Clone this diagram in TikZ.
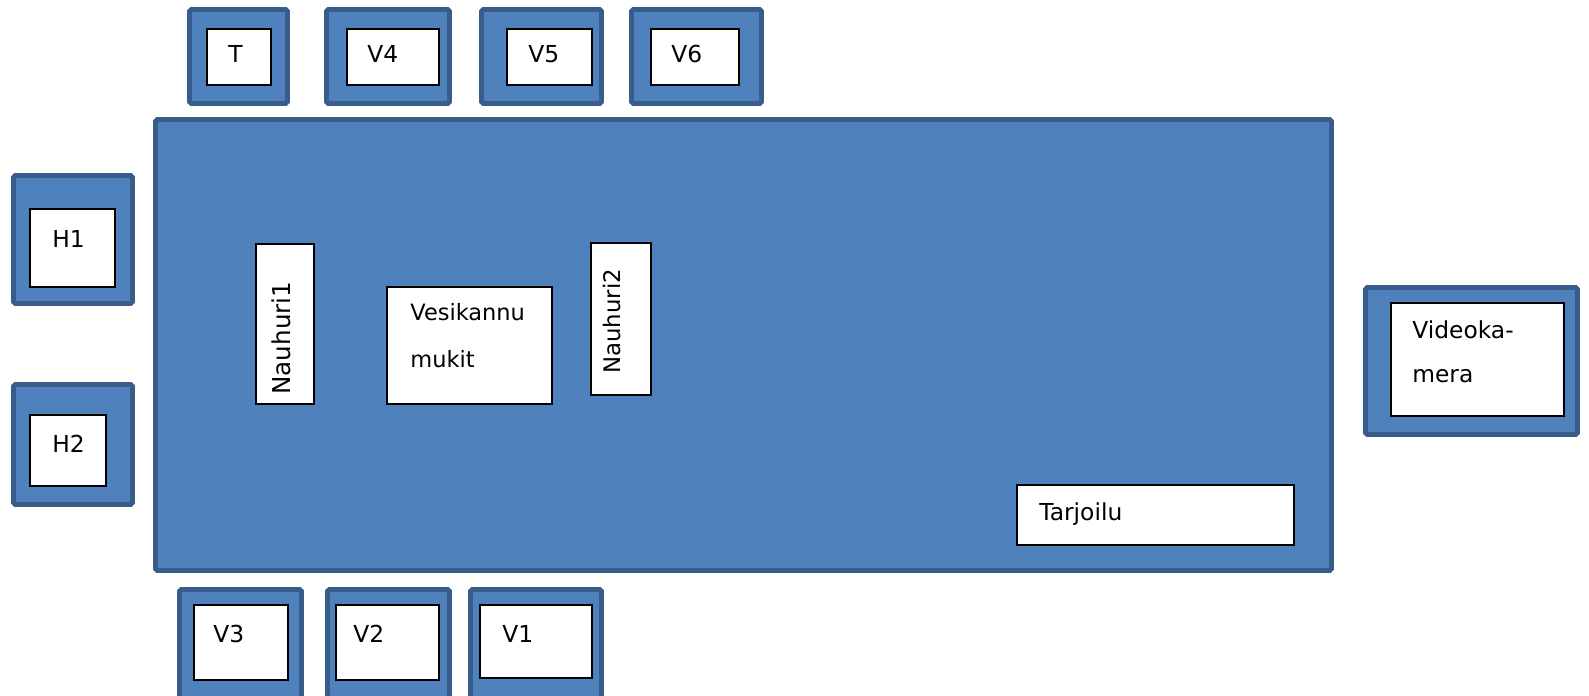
\documentclass[tikz,border=0pt]{standalone}
\usepackage{fontspec}
\setmainfont{DejaVu Sans}
\definecolor{seatfill}{RGB}{79,129,189}
\definecolor{seatline}{RGB}{56,93,138}
\tikzset{
    seat/.style={fill=seatfill, draw=seatline, line width=2.8pt, rounded corners=1pt},
    card/.style={fill=white, draw=black, line width=0.6pt},
    tag/.style={inner sep=0pt, font=\fontsize{13.3}{25.5}\selectfont},
}

\begin{document}
\begin{tikzpicture}[x=0.02cm, y=-0.02cm]
    \clip (0, 0) rectangle (1589, 696);
    % Table
    \draw[seat] (155.5, 119.5) rectangle (1331.5, 570.5);
    % Chairs round the table
    \foreach \xa/\ya/\xb/\yb/\xc/\yc/\xd/\yd/\tx/\ty/\lbl in {
        189.5/9.5/287.5/103.5/207/29/271/85/228/63/T,
        326.5/9.5/449.5/103.5/347/29/439/85/367/63/V4,
        481.5/9.5/601.5/103.5/507/29/592/85/528/63/V5,
        631.5/9.5/761.5/103.5/651/29/739/85/671/63/V6,
        13.5/175.5/132.5/303.5/30/209/115/287/52/247/H1,
        13.5/384.5/132.5/504.5/30/415/106/486/52/452/H2,
        179.5/589.5/301.5/706/194/605/288/680/213/642/V3,
        327.5/589.5/449.5/706/336/605/439/680/353/642/V2,
        470.5/589.5/601.5/706/480/605/592/678/502/642/V1}
    {
        \draw[seat] (\xa, \ya) rectangle (\xb, \yb);
        \draw[card] (\xc, \yc) rectangle (\xd, \yd);
        \node[tag, anchor=base west] (seat\lbl) at (\tx, \ty) {\lbl};
    }
    % Camera
    \draw[seat] (1365.5, 287.5) rectangle (1577.5, 434.5);
    \draw[card] (1391, 303) rectangle (1564, 416);
    \node[tag, anchor=north west, align=left] (camera) at (1412, 320)
        {Videoka-\\mera};
    % Things on the table
    \draw[card] (256, 244) rectangle (314, 404);
    \node[tag, anchor=base west, rotate=90, font=\fontsize{14}{16}\selectfont]
        (rec1) at (290, 395) {Nauhuri1};
    \draw[card] (387, 287) rectangle (552, 404);
    \node[tag, anchor=north west, align=left, font=\fontsize{12.8}{27}\selectfont]
        (jug) at (410, 303) {Vesikannu\\mukit};
    \draw[card] (591, 243) rectangle (651, 395);
    \node[tag, anchor=base west, rotate=90, font=\fontsize{13}{15}\selectfont]
        (rec2) at (620, 374) {Nauhuri2};
    \draw[card] (1017, 485) rectangle (1294, 545);
    \node[tag, anchor=base west] (serving) at (1039, 520) {Tarjoilu};
\end{tikzpicture}
\end{document}
